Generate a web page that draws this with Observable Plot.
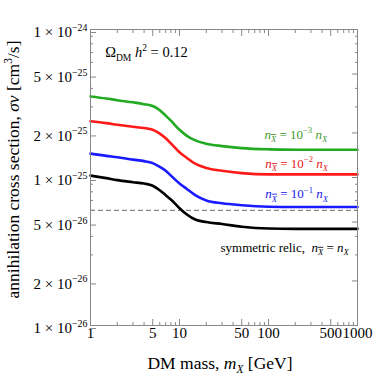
<!DOCTYPE html>
<html><head><meta charset="utf-8">
<script src="https://cdn.jsdelivr.net/npm/d3@7"></script>
<script src="https://cdn.jsdelivr.net/npm/@observablehq/plot@0.6"></script>
<style>
html,body{margin:0;padding:0;background:#fff;}
#chart svg{display:block;}
#chart svg, #chart svg text, #chart svg tspan {font-family: "Liberation Serif", "Times New Roman", serif !important;}
</style></head><body><div id="chart"></div>
<script>
// DM mass grid (GeV)
const mass = [1, 1.5, 2, 3, 4, 5, 6, 7, 8, 10, 12, 15, 20, 30, 50, 100, 200, 500, 1000];
// sigma v (cm^3/s) per curve
const sigmaAsym3 = [3.53e-25, 3.42e-25, 3.33e-25, 3.22e-25, 3.13e-25, 3.04e-25, 2.85e-25, 2.62e-25, 2.42e-25, 2.10e-25, 1.92e-25, 1.78e-25, 1.69e-25, 1.63e-25, 1.58e-25, 1.55e-25, 1.54e-25, 1.54e-25, 1.54e-25];
const sigmaAsym2 = [2.40e-25, 2.33e-25, 2.27e-25, 2.20e-25, 2.16e-25, 2.10e-25, 1.98e-25, 1.84e-25, 1.70e-25, 1.48e-25, 1.36e-25, 1.24e-25, 1.16e-25, 1.11e-25, 1.07e-25, 1.05e-25, 1.05e-25, 1.05e-25, 1.05e-25];
const sigmaAsym1 = [1.45e-25, 1.40e-25, 1.37e-25, 1.32e-25, 1.29e-25, 1.25e-25, 1.18e-25, 1.11e-25, 1.03e-25, 9.1e-26, 8.4e-26, 7.6e-26, 7.0e-26, 6.7e-26, 6.5e-26, 6.35e-26, 6.32e-26, 6.32e-26, 6.32e-26];
const sigmaSym = [1.03e-25, 0.99e-25, 0.96e-25, 0.93e-25, 0.91e-25, 0.88e-25, 0.82e-25, 0.76e-25, 0.71e-25, 6.2e-26, 5.65e-26, 5.2e-26, 5.0e-26, 4.85e-26, 4.65e-26, 4.52e-26, 4.5e-26, 4.5e-26, 4.5e-26];
const seriesValues = [sigmaAsym3, sigmaAsym2, sigmaAsym1, sigmaSym];
const seriesColors = ["#22aa22", "#ff1a1a", "#1a1aff", "#000000"];

// dashed reference level
const refLevel = [6.0e-26];
const refMass = [1, 1000];

// ticks
const xTicks = [1, 5, 10, 50, 100, 500, 1000];
const xTickLabels = ["1", "5", "10", "50", "100", "500", "1000"];
const xMinor = [2, 3, 4, 6, 7, 8, 9, 20, 30, 40, 60, 70, 80, 90, 200, 300, 400, 600, 700, 800, 900];
const yTicks = [1e-26, 2e-26, 5e-26, 1e-25, 2e-25, 5e-25, 1e-24];
const yTickLabels = ["1 × 10^{−26}", "2 × 10^{−26}", "5 × 10^{−26}", "1 × 10^{−25}", "2 × 10^{−25}", "5 × 10^{−25}", "1 × 10^{−24}"];
const yMinor = [3e-26, 4e-26, 6e-26, 7e-26, 8e-26, 9e-26, 3e-25, 4e-25, 6e-25, 7e-25, 8e-25, 9e-25];

// annotations (~...~ = overline)
const noteText = ["Ω_{DM} *h*^{2} = 0.12", "*n*_{*~X~*} = 10^{−3} *n*_{*X*}", "*n*_{*~X~*} = 10^{−2} *n*_{*X*}", "*n*_{*~X~*} = 10^{−1} *n*_{*X*}", "symmetric relic,  *n*_{*~X~*} = *n*_{*X*}"];
const noteMass = [1.46, 90, 92, 92, 28.9];
const noteSigma = [7.0e-25, 1.95e-25, 1.24e-25, 7.7e-26, 3.37e-26];
const noteColor = ["#000000", "#3f9a2a", "#e82020", "#2020e8", "#000000"];
const noteSize = [14.5, 13, 13, 13, 13];

const xTitle = "DM mass, *m*_{*X*} [GeV]";
const yTitle = "annihilation cross section, *σv* [cm^{3}/s]";

const tickStroke = "#888";
const marks = [];
marks.push(Plot.ruleY(refLevel, {y: d => d, x1: refMass[0], x2: refMass[1], stroke: "#888", strokeWidth: 1.2, strokeDasharray: "5,3"}));
seriesValues.forEach((vals, i) => {
  marks.push(Plot.line(mass, {x: d => d, y: (d, j) => vals[j], stroke: seriesColors[i], strokeWidth: 2.6, curve: "monotone-x"}));
});
// axes with inward ticks
marks.push(Plot.axisX({ticks: xTicks, tickSize: -6, tickFormat: () => "", stroke: tickStroke, label: null}));
marks.push(Plot.axisX({ticks: xMinor, tickSize: -3, tickFormat: () => "", stroke: tickStroke, label: null}));
marks.push(Plot.axisX({anchor: "top", ticks: xTicks, tickSize: -6, tickFormat: () => "", stroke: tickStroke, label: null}));
marks.push(Plot.axisX({anchor: "top", ticks: xMinor, tickSize: -3, tickFormat: () => "", stroke: tickStroke, label: null}));
marks.push(Plot.text(xTicks, {x: d => d, frameAnchor: "bottom", text: (d, i) => xTickLabels[i], lineAnchor: "top", textAnchor: "middle", dy: 2, fontSize: 15, fill: "black"}));
marks.push(Plot.axisY({ticks: yTicks, tickSize: -6, tickPadding: 9, dy: 3, tickFormat: d => yTickLabels[yTicks.indexOf(d)], stroke: tickStroke, fill: "black", fontSize: 15, label: null}));
marks.push(Plot.axisY({ticks: yMinor, tickSize: -3, tickFormat: () => "", stroke: tickStroke, label: null}));
marks.push(Plot.axisY({anchor: "right", ticks: yTicks, tickSize: -6, tickFormat: () => "", stroke: tickStroke, label: null}));
marks.push(Plot.axisY({anchor: "right", ticks: yMinor, tickSize: -3, tickFormat: () => "", stroke: tickStroke, label: null}));
marks.push(Plot.frame({stroke: tickStroke}));
noteText.forEach((t, i) => {
  marks.push(Plot.text([t], {x: () => noteMass[i], y: () => noteSigma[i], text: d => d, fill: noteColor[i], fontSize: noteSize[i], textAnchor: "start"}));
});
marks.push(Plot.text([xTitle], {frameAnchor: "bottom", text: d => d, dx: -4, dy: 38, fontSize: 17.5, fill: "black", textAnchor: "middle", lineAnchor: "middle"}));
marks.push(Plot.text([yTitle], {frameAnchor: "left", text: d => d, dx: -77, dy: -8, rotate: -90, fontSize: 17.5, fill: "black", textAnchor: "middle", lineAnchor: "middle"}));

const chart = Plot.plot({
  width: 374, height: 375,
  marginLeft: 90, marginRight: 17, marginTop: 29, marginBottom: 50,
  style: {fontFamily: "'Liberation Serif', serif", fontSize: "15px", background: "white", color: "black"},
  x: {type: "log", domain: [1, 1000]},
  y: {type: "log", domain: [1e-26, 1e-24]},
  marks
});
document.getElementById("chart").appendChild(chart);

function richify(el) {
  const src = el.textContent;
  if (!/[\^_*~]/.test(src)) return;
  const size = parseFloat(getComputedStyle(el).fontSize);
  const segs = []; let italic = false, over = false, mode = "n", buf = "";
  const push = () => { if (buf) segs.push({t: buf, mode, italic, over}); buf = ""; };
  for (let i = 0; i < src.length; i++) {
    const c = src[i];
    if (c === "*") { push(); italic = !italic; continue; }
    if (c === "~") { push(); over = !over; continue; }
    if ((c === "^" || c === "_") && src[i + 1] === "{") { push(); mode = c === "^" ? "sup" : "sub"; i++; continue; }
    if (c === "}" && mode !== "n") { push(); mode = "n"; continue; }
    buf += c;
  }
  push();
  el.textContent = "";
  let cur = 0;
  for (const s of segs) {
    const ts = document.createElementNS("http://www.w3.org/2000/svg", "tspan");
    const shift = s.mode === "sup" ? -0.42 * size : s.mode === "sub" ? 0.25 * size : 0;
    if (shift !== cur) ts.setAttribute("dy", shift - cur);
    cur = shift;
    if (s.mode !== "n") ts.setAttribute("font-size", 0.66 * size);
    if (s.italic) ts.setAttribute("font-style", "italic");
    if (s.over) ts.setAttribute("text-decoration", "overline");
    ts.textContent = s.t;
    el.appendChild(ts);
  }
}
chart.querySelectorAll("text").forEach(richify);
</script>
</body></html>
